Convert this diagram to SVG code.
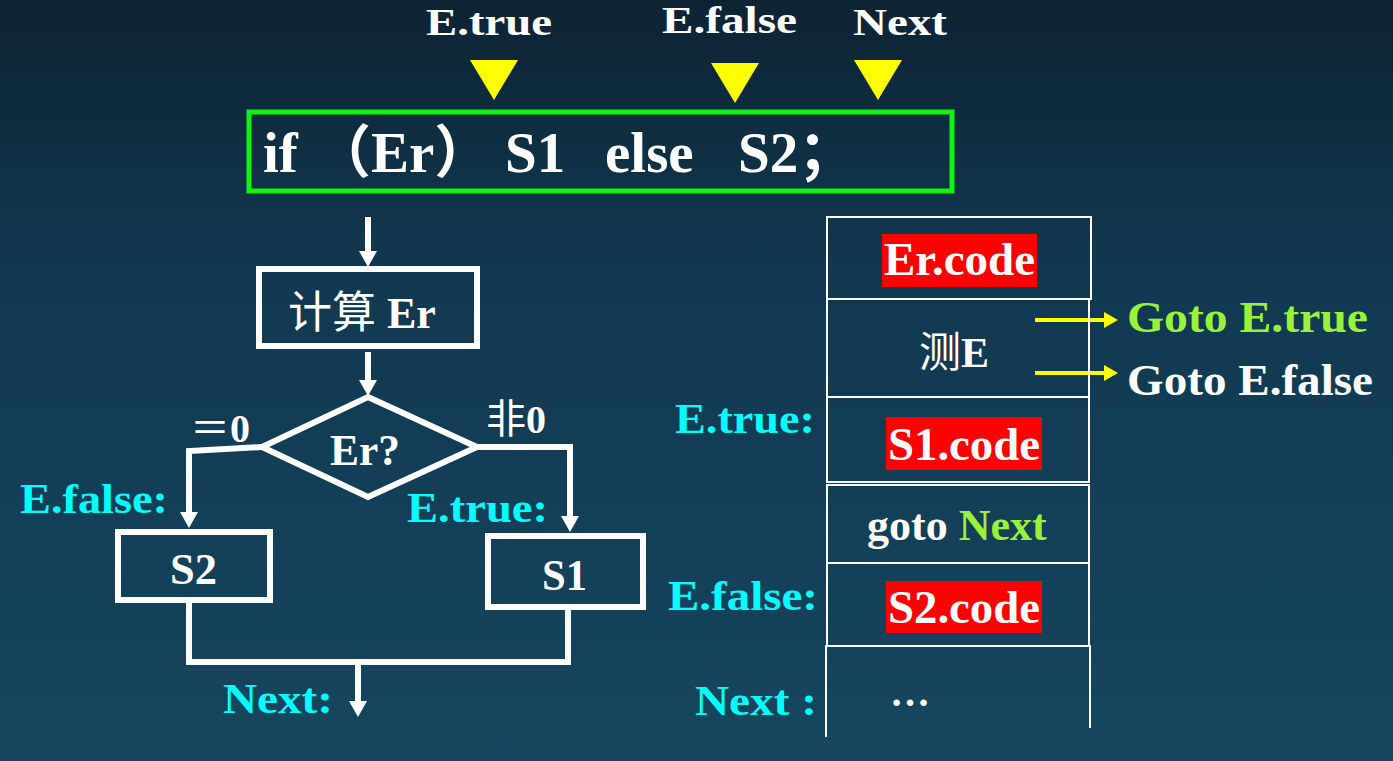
<svg xmlns="http://www.w3.org/2000/svg" width="1393" height="761" viewBox="0 0 1393 761">
<defs>
<linearGradient id="bg" x1="0" y1="0" x2="0" y2="1">
<stop offset="0" stop-color="#0d2333"/>
<stop offset="0.35" stop-color="#113850"/>
<stop offset="1" stop-color="#16465f"/>
</linearGradient>
<marker id="wa" markerUnits="userSpaceOnUse" markerWidth="18" markerHeight="20" refX="0" refY="9" orient="auto" viewBox="0 0 18 18">
<path d="M0,0 L16,9 L0,18 Z" fill="#ffffff"/>
</marker>
<marker id="ya" markerUnits="userSpaceOnUse" markerWidth="16" markerHeight="18" refX="0" refY="8" orient="auto" viewBox="0 0 16 16">
<path d="M0,0 L14,8 L0,16 Z" fill="#ffff00"/>
</marker>
<style>
.t{font-family:"Liberation Serif","Noto Sans CJK SC",serif;font-weight:bold;fill:#ffffff}
.c{fill:#00ffff}
.g{fill:#99f23a}
.cjk{font-family:"Noto Sans CJK SC","Liberation Serif",sans-serif;font-weight:normal}
.box{fill:none;stroke:#ffffff;stroke-width:6}
.cell{fill:none;stroke:#ffffff;stroke-width:2}
.red{fill:#ff0000}
.wl{fill:none;stroke:#ffffff;stroke-width:6;stroke-linejoin:miter}
.yl{fill:none;stroke:#ffff00;stroke-width:4}
.tri{fill:#ffff00}
</style>
</defs>
<rect x="0" y="0" width="1393" height="761" fill="url(#bg)"/>

<g id="labels-top">
<text class="t" x="426" y="35" font-size="38" textLength="126" lengthAdjust="spacingAndGlyphs">E.true</text>
<text class="t" x="662" y="33" font-size="38" textLength="135" lengthAdjust="spacingAndGlyphs">E.false</text>
<text class="t" x="853" y="35" font-size="38" textLength="94" lengthAdjust="spacingAndGlyphs">Next</text>
<polygon class="tri" points="470,60 518,60 494,100"/>
<polygon class="tri" points="711,63 759,63 735,103"/>
<polygon class="tri" points="854,60 902,60 878,100"/>
</g>

<g id="statement">
<rect x="249" y="112" width="703" height="79" fill="none" stroke="#11f311" stroke-width="5"/>
<text class="t" y="172" font-size="57"><tspan x="263">if</tspan><tspan x="314">（Er）</tspan><tspan x="505">S1 </tspan><tspan x="605">else </tspan><tspan x="738">S2；</tspan></text>
</g>

<g id="connectors">
<line class="wl" x1="368" y1="217" x2="368" y2="251" marker-end="url(#wa)"/>
<line class="wl" x1="368" y1="352" x2="368" y2="380" marker-end="url(#wa)"/>
<polyline class="wl" points="262,447 189,451 189,512" marker-end="url(#wa)"/>
<polyline class="wl" points="477,447 570,447 570,516" marker-end="url(#wa)"/>
<polyline class="wl" points="189,603 189,662 568,662 568,610"/>
<line class="wl" x1="358" y1="662" x2="358" y2="701" marker-end="url(#wa)"/>
<line class="yl" x1="1035" y1="320" x2="1104" y2="320" marker-end="url(#ya)"/>
<line class="yl" x1="1035" y1="373" x2="1104" y2="373" marker-end="url(#ya)"/>
</g>

<g id="node-compute">
<rect class="box" x="259" y="269" width="218" height="77"/>
<text class="t" x="288" y="328" font-size="44"><tspan class="cjk">计算</tspan> Er</text>
</g>

<g id="node-decision">
<polygon class="box" points="368,397 477,447 368,497 262,447"/>
<text class="t" x="330" y="465" font-size="44" textLength="70" lengthAdjust="spacingAndGlyphs">Er?</text>
<text class="t" x="190" y="442" font-size="40"><tspan class="cjk">＝</tspan>0</text>
<text class="t" x="486" y="433" font-size="40"><tspan class="cjk">非</tspan>0</text>
</g>

<g id="node-s2">
<rect class="box" x="118" y="532" width="152" height="68"/>
<text class="t" x="170" y="584" font-size="44" textLength="47" lengthAdjust="spacingAndGlyphs">S2</text>
</g>

<g id="node-s1">
<rect class="box" x="488" y="536" width="155" height="71"/>
<text class="t" x="542" y="590" font-size="44" textLength="45" lengthAdjust="spacingAndGlyphs">S1</text>
</g>

<g id="flow-labels">
<text class="t c" x="20" y="513" font-size="42" textLength="148" lengthAdjust="spacingAndGlyphs">E.false:</text>
<text class="t c" x="407" y="522" font-size="42" textLength="141" lengthAdjust="spacingAndGlyphs">E.true:</text>
<text class="t c" x="223" y="713" font-size="42" textLength="110" lengthAdjust="spacingAndGlyphs">Next:</text>
</g>

<g id="cell-er">
<rect class="cell" x="827" y="217" width="264" height="82"/>
<rect class="red" x="882" y="234" width="155" height="53"/>
<text class="t" x="884" y="275" font-size="46" textLength="151" lengthAdjust="spacingAndGlyphs">Er.code</text>
</g>

<g id="cell-test">
<rect class="cell" x="827" y="299" width="262" height="98"/>
<text class="t" x="919" y="367" font-size="42"><tspan class="cjk">测</tspan>E</text>
</g>

<g id="cell-s1">
<rect class="cell" x="827" y="397" width="262" height="85"/>
<rect class="red" x="886" y="417" width="156" height="53"/>
<text class="t" x="888" y="460" font-size="46" textLength="152" lengthAdjust="spacingAndGlyphs">S1.code</text>
</g>

<g id="cell-goto">
<rect class="cell" x="827" y="485" width="262" height="78"/>
<text class="t" x="867" y="540" font-size="44">goto <tspan class="g">Next</tspan></text>
</g>

<g id="cell-s2">
<rect class="cell" x="827" y="563" width="262" height="83"/>
<rect class="red" x="886" y="581" width="156" height="52"/>
<text class="t" x="888" y="623" font-size="46" textLength="152" lengthAdjust="spacingAndGlyphs">S2.code</text>
</g>

<g id="cell-next">
<path class="cell" d="M826,737 V646 H1090 V728"/>
<text class="t" x="890" y="706" font-size="40">…</text>
</g>

<g id="table-labels">
<text class="t c" x="675" y="433" font-size="42" textLength="140" lengthAdjust="spacingAndGlyphs">E.true:</text>
<text class="t c" x="668" y="610" font-size="42" textLength="150" lengthAdjust="spacingAndGlyphs">E.false:</text>
<text class="t c" x="695" y="715" font-size="42" textLength="122" lengthAdjust="spacingAndGlyphs">Next :</text>
<text class="t g" x="1127" y="332" font-size="44" textLength="241" lengthAdjust="spacingAndGlyphs">Goto E.true</text>
<text class="t" x="1127" y="395" font-size="44" textLength="246" lengthAdjust="spacingAndGlyphs">Goto E.false</text>
</g>
</svg>
